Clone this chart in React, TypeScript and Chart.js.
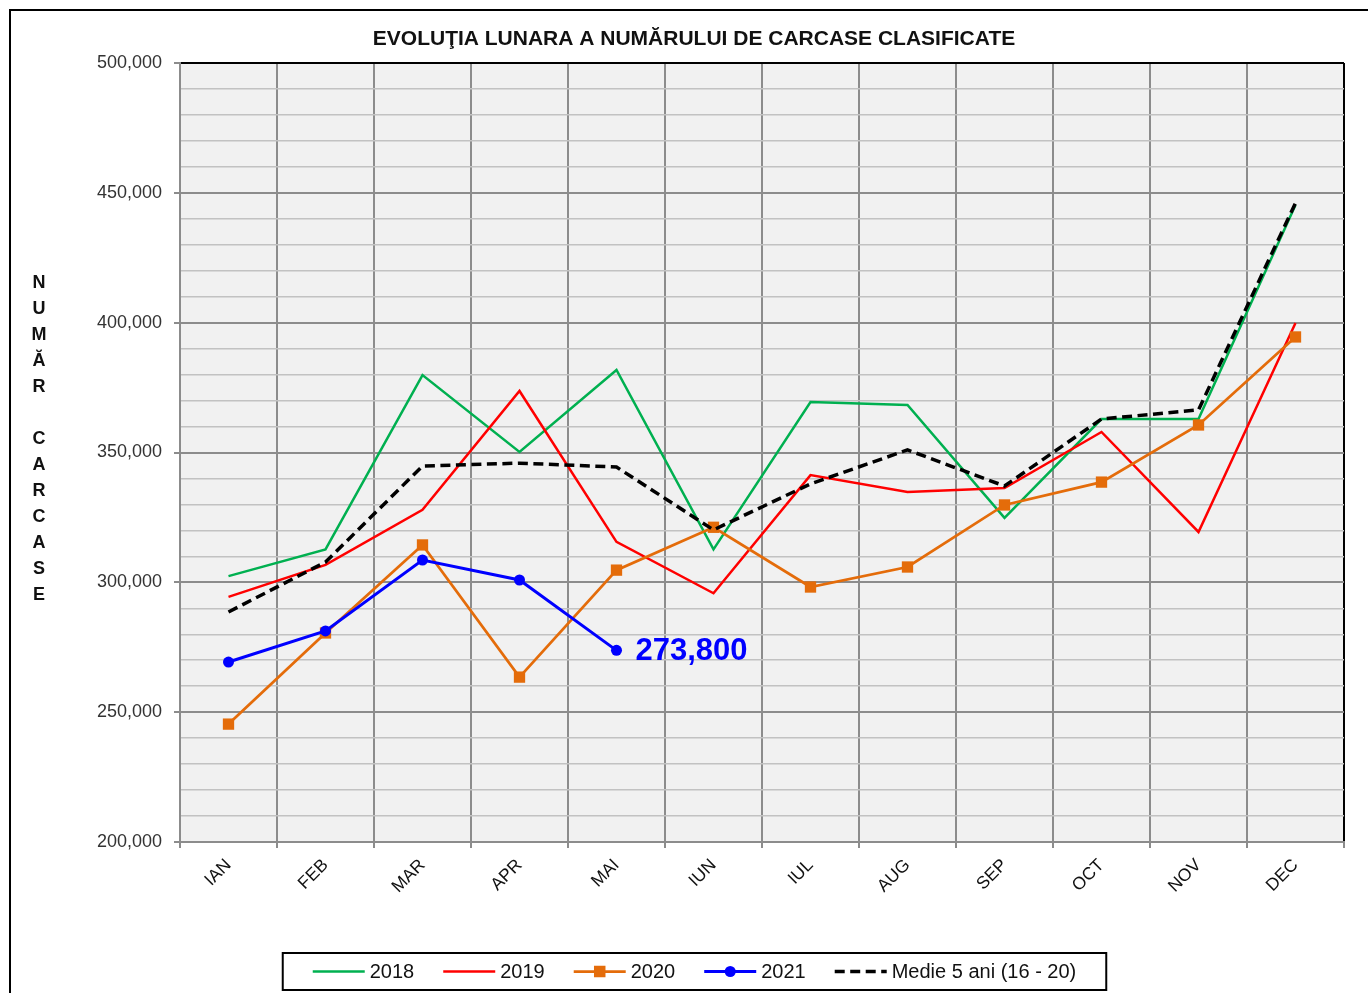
import React, { useEffect, useRef } from 'react';
import { Chart, registerables } from 'chart.js';

Chart.register(...registerables);

const months = ['IAN', 'FEB', 'MAR', 'APR', 'MAI', 'IUN', 'IUL', 'AUG', 'SEP', 'OCT', 'NOV', 'DEC'];
const values2018 = [302400, 312700, 379800, 350200, 381800, 312700, 369400, 368300, 324800, 362900, 362900, 445300];
const values2019 = [294400, 306700, 327900, 373700, 315600, 295800, 341300, 334800, 336300, 357900, 319400, 399900];
const values2020 = [245400, 280500, 314400, 263500, 304700, 321200, 298200, 305900, 329800, 338600, 360600, 394500];
const values2021 = [269300, 281300, 308600, 300900, 273800];
const valuesMedie = [288600, 307800, 344800, 345900, 344400, 320200, 337900, 351000, 337100, 362900, 366400, 446100];
const seriesLabels = ['2018', '2019', '2020', '2021', 'Medie 5 ani (16 - 20)'];
const yMin = 200000;
const yMax = 500000;
const yMajorStep = 50000;
const yMinorStep = 10000;
const chartTitle = 'EVOLUŢIA LUNARA A NUMĂRULUI DE CARCASE CLASIFICATE';
const yAxisTitle = 'NUMĂR CARCASE';

const FONT = '"Liberation Sans", Arial, sans-serif';
const W = 1368;
const H = 993;

const decorPlugin = {
  id: 'decor',
  beforeDraw(chart: any) {
    const { ctx, chartArea } = chart;
    ctx.save();
    ctx.fillStyle = '#ffffff';
    ctx.fillRect(0, 0, chart.width, chart.height);
    ctx.fillStyle = '#f1f1f1';
    ctx.fillRect(chartArea.left, chartArea.top, chartArea.right - chartArea.left, chartArea.bottom - chartArea.top);
    ctx.strokeStyle = '#000';
    ctx.lineWidth = 2;
    ctx.strokeRect(10, 10, 3000, 3000);
    ctx.restore();
  },
  afterDraw(chart: any) {
    const { ctx } = chart;
    ctx.save();
    ctx.fillStyle = '#111';
    ctx.font = `bold 21px ${FONT}`;
    ctx.textAlign = 'center';
    ctx.textBaseline = 'middle';
    ctx.fillText(chartTitle, 694, 39);
    ctx.font = `bold 18px ${FONT}`;
    const chars = Array.from(yAxisTitle);
    chars.forEach((c, i) => {
      if (c !== ' ') ctx.fillText(c, 39, 283 + i * 26);
    });
    const items = chart.data.datasets.map((ds: any) => ({
      label: ds.label,
      color: ds.borderColor,
      width: ds.borderWidth,
      dash: ds.borderDash || [],
      style: ds.pointRadius > 0 ? ds.pointStyle : null,
      fill: ds.pointBackgroundColor || ds.borderColor,
    }));
    ctx.font = `20px ${FONT}`;
    const sample = 52, tgap = 5, igap = 29, pad = 30;
    let total = 0;
    items.forEach((it: any) => {
      it.w = sample + tgap + ctx.measureText(it.label).width;
      total += it.w;
    });
    total += igap * (items.length - 1);
    const boxW = total + 2 * pad;
    const boxX = 694.5 - boxW / 2;
    const boxY = 953;
    const boxH = 37;
    ctx.strokeStyle = '#000';
    ctx.lineWidth = 2;
    ctx.setLineDash([]);
    ctx.strokeRect(boxX, boxY, boxW, boxH);
    const cy = boxY + boxH / 2;
    let x = boxX + pad;
    items.forEach((it: any) => {
      ctx.save();
      ctx.strokeStyle = it.color;
      ctx.lineWidth = it.width;
      ctx.setLineDash(it.dash);
      ctx.beginPath();
      ctx.moveTo(x, cy);
      ctx.lineTo(x + sample, cy);
      ctx.stroke();
      ctx.setLineDash([]);
      ctx.fillStyle = it.fill;
      const mx = x + sample / 2;
      if (it.style === 'rect') {
        ctx.fillRect(mx - 5.75, cy - 5.75, 11.5, 11.5);
      } else if (it.style === 'circle') {
        ctx.beginPath();
        ctx.arc(mx, cy, 5.5, 0, Math.PI * 2);
        ctx.fill();
      }
      ctx.restore();
      ctx.fillStyle = '#111';
      ctx.textAlign = 'left';
      ctx.textBaseline = 'middle';
      ctx.fillText(it.label, x + sample + tgap, cy + 1);
      x += it.w + igap;
    });
    ctx.restore();
  },
  afterDatasetsDraw(chart: any) {
    const { ctx } = chart;
    const idx = 3;
    const meta = chart.getDatasetMeta(idx);
    const data = chart.data.datasets[idx].data;
    const last = data.length - 1;
    const el = meta.data[last];
    if (!el) return;
    ctx.save();
    ctx.fillStyle = '#0000ff';
    ctx.font = `bold 31px ${FONT}`;
    ctx.textAlign = 'left';
    ctx.textBaseline = 'middle';
    ctx.fillText(Number(data[last]).toLocaleString('en-US'), el.x + 19, el.y + 1);
    ctx.restore();
  },
};

export default function App() {
  const ref = useRef<HTMLCanvasElement | null>(null);
  useEffect(() => {
    if (!ref.current) return;
    const chart = new Chart(ref.current, {
      type: 'line',
      data: {
        labels: months,
        datasets: [
          { label: seriesLabels[0], data: values2018, borderColor: '#00b050', backgroundColor: '#00b050', borderWidth: 2.5, pointRadius: 0, order: 4 },
          { label: seriesLabels[1], data: values2019, borderColor: '#ff0000', backgroundColor: '#ff0000', borderWidth: 2.5, pointRadius: 0, order: 3 },
          { label: seriesLabels[2], data: values2020, borderColor: '#e46c0a', backgroundColor: '#e46c0a', pointBackgroundColor: '#e46c0a', borderWidth: 2.75, pointStyle: 'rect', pointRadius: 8, pointBorderWidth: 0, order: 2 },
          { label: seriesLabels[3], data: values2021, borderColor: '#0000ff', backgroundColor: '#0000ff', pointBackgroundColor: '#0000ff', borderWidth: 3, pointStyle: 'circle', pointRadius: 5.5, pointBorderWidth: 0, order: 1 },
          { label: seriesLabels[4], data: valuesMedie, borderColor: '#000000', backgroundColor: '#000000', borderWidth: 3.5, borderDash: [10, 5.5], pointRadius: 0, order: 0 },
        ],
      } as any,
      options: {
        animation: false,
        responsive: false,
        devicePixelRatio: 1,
        layout: { padding: { left: 0, top: 63, right: 24, bottom: 0 } },
        plugins: { legend: { display: false }, title: { display: false }, tooltip: { enabled: false } },
        elements: { line: { tension: 0 } },
        scales: {
          x: {
            type: 'category',
            offset: true,
            grid: {
              offset: true,
              color: (c: any) => (c.type === 'scale' ? '#000000' : '#8c8c8c'),
              lineWidth: 2,
              tickLength: 6,
              tickColor: '#8c8c8c',
            },
            border: { color: '#8c8c8c', width: 2 },
            ticks: {
              autoSkip: false,
              maxRotation: 45,
              minRotation: 45,
              padding: 7,
              color: '#111',
              font: { family: FONT, size: 17.5 },
            },
            afterFit: (s: any) => { s.height = 151; },
          },
          y: {
            min: yMin,
            max: yMax,
            ticks: {
              stepSize: yMinorStep,
              autoSkip: false,
              padding: 12,
              color: '#333',
              font: { family: FONT, size: 18 },
              callback: (v: any) => (Number(v) % yMajorStep === 0 ? Number(v).toLocaleString('en-US') : ''),
            },
            grid: {
              color: (c: any) => {
                const v = c.tick ? c.tick.value : 0;
                if (v === yMax) return '#000000';
                return v % yMajorStep === 0 ? '#8c8c8c' : '#c2c2c2';
              },
              lineWidth: (c: any) => {
                const v = c.tick ? c.tick.value : 0;
                return v % yMajorStep === 0 ? 2 : 1.5;
              },
              tickLength: 6,
              tickColor: (c: any) => {
                const v = c.tick ? c.tick.value : 0;
                return v % yMajorStep === 0 ? '#8c8c8c' : 'rgba(0,0,0,0)';
              },
            },
            border: { color: '#8c8c8c', width: 2 },
            afterFit: (s: any) => { s.width = 180; },
          },
        },
      } as any,
      plugins: [decorPlugin],
    });
    return () => chart.destroy();
  }, []);
  return (
    <div style={{ position: 'fixed', left: 0, top: 0, width: W, height: H, overflow: 'hidden', background: '#fff' }}>
      <canvas ref={ref} width={W} height={H} style={{ display: 'block', width: W, height: H }} />
    </div>
  );
}
